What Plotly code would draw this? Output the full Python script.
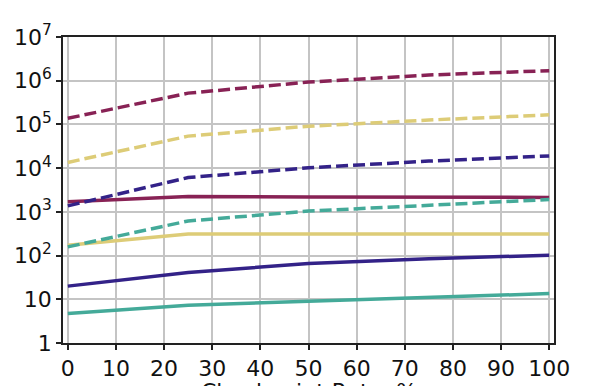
import plotly.graph_objects as go

# checkpoint rate (%)
rate = [0, 25, 50, 75, 100]

# solid series
solid_wine = [1700, 2240, 2200, 2180, 2140]
solid_sand = [173, 310, 310, 310, 310]
solid_indigo = [20, 41, 66, 85, 102]
solid_teal = [4.7, 7.3, 9.0, 11.2, 13.5]

# dashed series
dash_wine = [138000, 520000, 930000, 1350000, 1700000]
dash_sand = [13500, 54000, 91000, 126000, 166000]
dash_indigo = [1370, 6100, 10200, 14500, 19000]
dash_teal = [158, 620, 1040, 1420, 1920]

y_tickvals = [1, 10, 100, 1e3, 1e4, 1e5, 1e6, 1e7]
y_ticktext = ["1", "10", "10<sup>2</sup>", "10<sup>3</sup>", "10<sup>4</sup>",
              "10<sup>5</sup>", "10<sup>6</sup>", "10<sup>7</sup>"]
x_tickvals = [0, 10, 20, 30, 40, 50, 60, 70, 80, 90, 100]

WINE = "#882255"
SAND = "#DDCC77"
INDIGO = "#332288"
TEAL = "#44AA99"

fig = go.Figure()
for ys, col in [(solid_wine, WINE), (solid_sand, SAND),
                (solid_indigo, INDIGO), (solid_teal, TEAL)]:
    fig.add_trace(go.Scatter(x=rate, y=ys, mode="lines",
                             line=dict(color=col, width=3.5)))
for ys, col in [(dash_wine, WINE), (dash_sand, SAND),
                (dash_indigo, INDIGO), (dash_teal, TEAL)]:
    fig.add_trace(go.Scatter(x=rate, y=ys, mode="lines",
                             line=dict(color=col, width=3.5, dash="12px,5px")))

axis_common = dict(
    showgrid=True, gridcolor="#c4c4c4", gridwidth=1.5,
    showline=True, linecolor="#222222", linewidth=1.5, mirror=True,
    ticks="outside", ticklen=5, tickwidth=1.5, tickcolor="#222222",
    zeroline=False, automargin=False,
    tickfont=dict(size=22, color="#111111"),
)

# the page body adds 8px on the top/left, so margins are shifted to compensate
fig.update_layout(
    width=598, height=386,
    paper_bgcolor="white", plot_bgcolor="white",
    font=dict(family="DejaVu Sans", color="#111111"),
    showlegend=False,
    margin=dict(l=55, r=52, t=29, b=51),
    xaxis=dict(range=[-1, 101], tickvals=x_tickvals, **axis_common),
    yaxis=dict(type="log", range=[0, 7], tickvals=y_tickvals,
               ticktext=y_ticktext, **axis_common),
    annotations=[dict(
        text="Checkpoint Rate, %", xref="paper", yref="paper",
        x=0.5, y=-0.11, xanchor="center", yanchor="top",
        showarrow=False, font=dict(size=22, color="#111111"),
    )],
)

fig.write_html("out.html")
